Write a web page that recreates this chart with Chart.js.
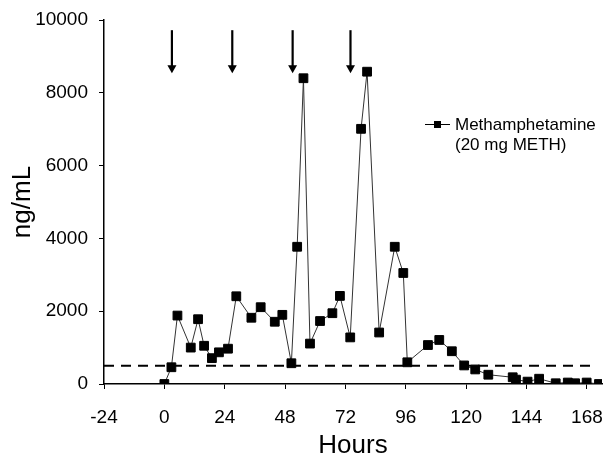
<!DOCTYPE html>
<html>
<head>
<meta charset="utf-8">
<script src="https://cdn.jsdelivr.net/npm/chart.js@4.4.1/dist/chart.umd.min.js"></script>
<style>
  html, body { margin: 0; padding: 0; background: #fff; }
  #wrap { width: 616px; height: 461px; }
</style>
</head>
<body>
<div id="wrap"><canvas id="c" width="616" height="461"></canvas></div>
<script>
// ---- Data ----
const hours = [0, 2.8, 5.2, 10.5, 13.4, 15.8, 18.9, 21.7, 25.3, 28.6, 34.6, 38.3, 43.9, 46.9, 50.5, 52.8, 55.3, 57.9, 61.9, 66.8, 69.8, 73.9, 78.2, 80.6, 85.4, 91.6, 95.0, 96.6, 104.8, 109.3, 114.3, 119.2, 123.6, 128.8, 138.5, 139.8, 144.4, 149.0, 155.6, 160.4, 163.3, 167.9, 172.8];
const methValues = [0, 460, 1880, 1000, 1780, 1050, 710, 870, 970, 2410, 1820, 2110, 1710, 1900, 570, 3770, 8400, 1110, 1730, 1945, 2420, 1280, 7010, 8580, 1415, 3770, 3050, 596, 1070, 1210, 900, 510, 400, 255, 185, 120, 65, 145, 20, 40, 20, 40, 0];
const doseHours = [3, 27, 51, 74];
const arrowTopValue = 9720;
const arrowTipValue = 8540;
const cutoffValue = 500;
const cutoffHours = [-24, 172];
const xTicks = [-24, 0, 24, 48, 72, 96, 120, 144, 168];
const yTicks = [0, 2000, 4000, 6000, 8000, 10000];
const seriesLabel = ['Methamphetamine', '(20 mg METH)'];

const FONT = "'Liberation Sans', Arial, Helvetica, sans-serif";

const arrowsPlugin = {
  id: 'doseArrows',
  afterDatasetsDraw(chart) {
    const ctx = chart.ctx, xs = chart.scales.x, ys = chart.scales.y;
    ctx.save();
    ctx.fillStyle = '#000';
    ctx.strokeStyle = '#000';
    doseHours.forEach(h => {
      const x = xs.getPixelForValue(h);
      const y0 = ys.getPixelForValue(arrowTopValue);
      const y1 = ys.getPixelForValue(arrowTipValue);
      ctx.lineWidth = 2.2;
      ctx.beginPath();
      ctx.moveTo(x, y0);
      ctx.lineTo(x, y1 - 6);
      ctx.stroke();
      ctx.beginPath();
      ctx.moveTo(x - 4.5, y1 - 8);
      ctx.lineTo(x + 4.5, y1 - 8);
      ctx.lineTo(x, y1);
      ctx.closePath();
      ctx.fill();
    });
    ctx.restore();
  }
};

const legendPlugin = {
  id: 'customLegend',
  afterDraw(chart) {
    const ctx = chart.ctx;
    ctx.save();
    ctx.strokeStyle = '#000';
    ctx.lineWidth = 1;
    ctx.beginPath();
    ctx.moveTo(425, 124.5);
    ctx.lineTo(450, 124.5);
    ctx.stroke();
    ctx.fillStyle = '#000';
    ctx.fillRect(434, 121, 7, 7);
    ctx.font = '17px ' + FONT;
    ctx.textBaseline = 'middle';
    ctx.textAlign = 'left';
    ctx.fillText(seriesLabel[0], 455, 125);
    ctx.fillText(seriesLabel[1], 455, 145);
    ctx.restore();
  }
};

const mainData = hours.map((h, i) => ({ x: h, y: methValues[i] }));
const cutoffData = cutoffHours.map(h => ({ x: h, y: cutoffValue }));

new Chart(document.getElementById('c'), {
  type: 'line',
  data: {
    datasets: [
      {
        label: seriesLabel.join(' '),
        data: mainData,
        borderColor: '#333',
        borderWidth: 1,
        backgroundColor: '#000',
        pointStyle: 'rect',
        pointRadius: 6.2,
        pointBorderColor: '#000',
        pointBackgroundColor: '#000',
        pointBorderWidth: 1,
        tension: 0,
        order: 0
      },
      {
        label: 'cutoff',
        data: cutoffData,
        borderColor: '#000',
        borderWidth: 2,
        borderDash: [10, 7],
        pointRadius: 0,
        tension: 0,
        order: 1
      }
    ]
  },
  options: {
    responsive: false,
    animation: false,
    devicePixelRatio: 1,
    layout: { padding: { left: 0, top: 20, right: 14, bottom: 0 } },
    plugins: { legend: { display: false }, tooltip: { enabled: false } },
    scales: {
      x: {
        type: 'linear',
        min: -24,
        max: 174,
        afterBuildTicks(scale) { scale.ticks = xTicks.map(v => ({ value: v })); },
        afterFit(scale) {
          scale.height = 77;
          scale.paddingLeft = 0; scale.paddingRight = 0;
        },
        border: { display: true, color: '#000', width: 1.5 },
        grid: { display: true, drawOnChartArea: false, drawTicks: true, tickLength: 5, color: '#000', tickColor: '#000', lineWidth: 1 },
        ticks: {
          color: '#000',
          font: { family: FONT, size: 19 },
          padding: 17,
          maxRotation: 0,
          autoSkip: false,
          callback: v => String(v)
        },
        title: {
          display: true,
          text: 'Hours',
          color: '#000',
          font: { family: FONT, size: 26 },
          padding: { top: 0, bottom: 0 }
        }
      },
      y: {
        type: 'linear',
        min: 0,
        max: 10000,
        afterBuildTicks(scale) { scale.ticks = yTicks.map(v => ({ value: v })); },
        afterFit(scale) {
          scale.width = 104;
          scale.paddingTop = 0; scale.paddingBottom = 0;
        },
        border: { display: true, color: '#000', width: 1.5 },
        grid: { display: true, drawOnChartArea: false, drawTicks: true, tickLength: 5, color: '#000', tickColor: '#000', lineWidth: 1 },
        ticks: {
          color: '#000',
          font: { family: FONT, size: 19 },
          padding: 11,
          autoSkip: false,
          callback: v => String(v)
        },
        title: {
          display: true,
          text: 'ng/mL',
          color: '#000',
          font: { family: FONT, size: 26 },
          padding: { top: 7, bottom: 0 }
        }
      }
    }
  },
  plugins: [arrowsPlugin, legendPlugin]
});
</script>
</body>
</html>
